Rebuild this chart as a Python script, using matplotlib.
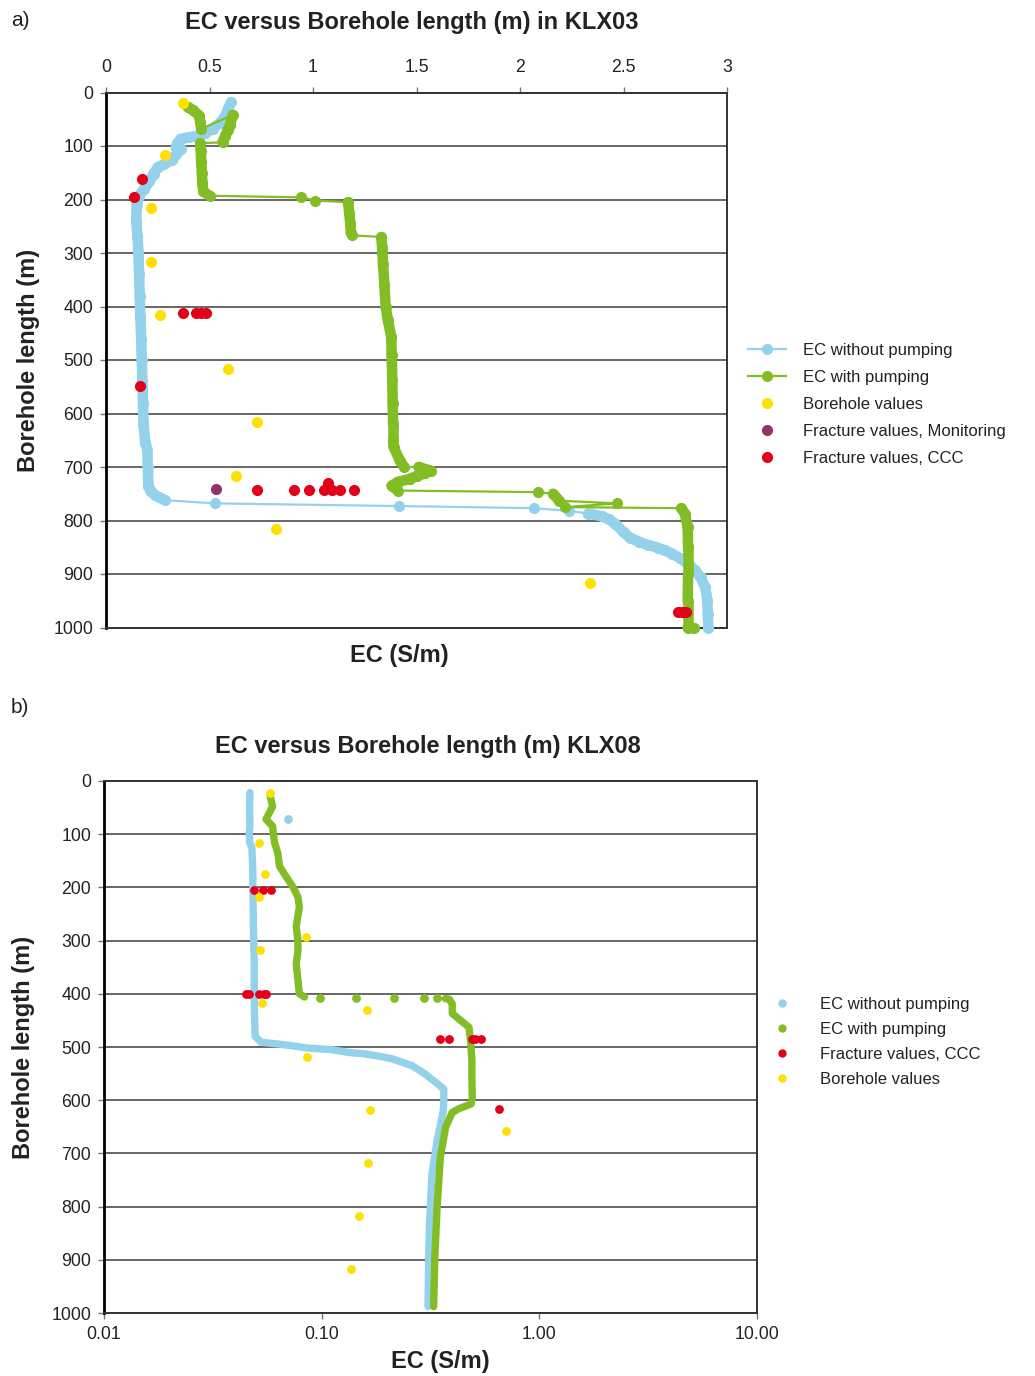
import matplotlib
matplotlib.use("Agg")
import matplotlib.pyplot as plt
from matplotlib.collections import LineCollection
from matplotlib.lines import Line2D
import numpy as np

plt.rcParams['font.family'] = ['Liberation Sans', 'DejaVu Sans']

BLUE = '#93D2EA'
GREEN = '#83BD26'
YELLOW = '#FFE000'
RED = '#E3001B'
PURPLE = '#963366'

# ---------------- a) KLX03 (linear EC axis) ----------------
klx03_nopump_ec = [0.604, 0.59, 0.575, 0.55, 0.515, 0.48, 0.45, 0.40, 0.36, 0.345, 0.338, 0.36,
                   0.34, 0.32, 0.28, 0.25, 0.23, 0.21, 0.185, 0.16, 0.148, 0.146, 0.152, 0.157,
                   0.160, 0.163, 0.166, 0.170, 0.173, 0.176, 0.179, 0.181, 0.19, 0.2, 0.202, 0.205,
                   0.215, 0.235, 0.257, 0.286, 0.527, 1.417, 2.069, 2.236, 2.33, 2.394, 2.43, 2.46,
                   2.5, 2.53, 2.576, 2.62, 2.665, 2.70, 2.734, 2.775, 2.813, 2.845, 2.872, 2.895,
                   2.905, 2.907, 2.91]
klx03_nopump_depth = [18, 30, 45, 57, 68, 76, 80, 84, 87, 95, 102, 106,
                      115, 126, 134, 140, 152, 166, 180, 193, 210, 240, 270, 300,
                      340, 380, 420, 460, 500, 540, 580, 620, 655, 668, 700, 735,
                      745, 752, 757, 762, 768, 773, 777, 782, 787, 792, 798, 806,
                      822, 832, 840, 846, 851, 856, 862, 871, 881, 893, 906, 925,
                      950, 975, 1000]

klx03_pump_ec = [0.394, 0.42, 0.45, 0.455, 0.46, 0.612, 0.60, 0.587, 0.575, 0.563, 0.455, 0.458,
                 0.46, 0.463, 0.466, 0.47, 0.50, 0.943, 1.012, 1.169, 1.175, 1.18, 1.183, 1.19,
                 1.33, 1.334, 1.338, 1.345, 1.351, 1.362, 1.378, 1.38, 1.383, 1.385, 1.387, 1.387,
                 1.39, 1.42, 1.44, 1.51, 1.57, 1.54, 1.50, 1.47, 1.41, 1.38, 1.41, 2.087,
                 2.16, 2.19, 2.47, 2.215, 2.78, 2.797, 2.81, 2.812, 2.812, 2.81, 2.81, 2.84]
klx03_pump_depth = [27, 33, 43, 55, 68, 42, 60, 71, 82, 93, 95, 110,
                    130, 150, 170, 185, 193, 196, 202, 205, 225, 245, 262, 267,
                    270, 290, 320, 360, 401, 426, 457, 490, 538, 580, 620, 650,
                    663, 688, 700, 700, 707, 712, 717, 722, 728, 735, 744, 747,
                    750, 763, 768, 775, 777, 788, 813, 850, 900, 950, 1000, 1001]

klx03_borehole_ec = [0.374, 0.286, 0.216, 0.216, 0.262, 0.588, 0.728, 0.626, 0.819, 2.339]
klx03_borehole_depth = [19, 116, 215, 316, 416, 516, 616, 716, 815, 916]

klx03_monitoring_ec = [0.533]
klx03_monitoring_depth = [741]

klx03_ccc_ec = [0.173, 0.136, 0.374, 0.434, 0.458, 0.483, 0.165, 0.73, 0.908, 0.981, 1.052,
                1.072, 1.092, 1.131, 1.198, 2.764, 2.783, 2.803]
klx03_ccc_depth = [161, 196, 412, 412, 412, 412, 549, 743, 743, 743, 743,
                   729, 743, 743, 743, 971, 971, 971]

# ---------------- b) KLX08 (log EC axis) ----------------
klx08_nopump_ec = [0.0468, 0.0466, 0.0468, 0.0465, 0.0468, 0.0478, 0.0482, 0.0484, 0.0486, 0.049,
                   0.049, 0.0492, 0.0495, 0.0526, 0.0652, 0.0865, 0.111, 0.132, 0.158, 0.182,
                   0.210, 0.260, 0.299, 0.333, 0.364, 0.364, 0.362, 0.339, 0.321, 0.313, 0.31, 0.308]
klx08_nopump_depth = [22, 50, 80, 100, 117, 125, 160, 220, 280, 340,
                      400, 450, 480, 491, 495, 502, 505, 510, 513, 517,
                      522, 535, 551, 566, 579, 600, 620, 676, 739, 833, 900, 988]
klx08_nopump_single_ec = [0.0704]
klx08_nopump_single_depth = [72]

klx08_pump_ec = [0.058, 0.0595, 0.0555, 0.0595, 0.0600, 0.0607, 0.0629, 0.064, 0.0687, 0.0738,
                 0.0778, 0.079, 0.0776, 0.0764, 0.0778, 0.0778, 0.0764, 0.0778, 0.079, 0.0834]
klx08_pump_depth = [28, 48, 72, 85, 100, 115, 136, 160, 180, 199,
                    218, 237, 256, 274, 300, 320, 343, 374, 400, 406]
klx08_pump_deep_ec = [0.370, 0.385, 0.398, 0.398, 0.435, 0.475, 0.483, 0.49, 0.49, 0.492, 0.486,
                      0.427, 0.398, 0.371, 0.351, 0.339, 0.331, 0.327]
klx08_pump_deep_depth = [409, 410, 419, 437, 450, 463, 488, 525, 560, 595, 607,
                         616, 623, 651, 707, 802, 896, 988]
klx08_pump_single_ec = [0.098, 0.1436, 0.214, 0.296, 0.339]
klx08_pump_single_depth = [407, 407, 407, 407, 408]

klx08_ccc_ec = [0.049, 0.0535, 0.0585, 0.0449, 0.0465, 0.0517, 0.0545, 0.0555,
                0.351, 0.384, 0.492, 0.509, 0.537, 0.653]
klx08_ccc_depth = [204, 204, 204, 401, 401, 401, 401, 401,
                   485, 485, 485, 485, 485, 616]

klx08_borehole_ec = [0.0576, 0.0514, 0.055, 0.0517, 0.0847, 0.0522, 0.0532, 0.161, 0.0855,
                     0.166, 0.706, 0.164, 0.148, 0.136]
klx08_borehole_depth = [23, 117, 175, 218, 293, 318, 417, 430, 518,
                        618, 657, 718, 817, 917]

depth_ticks = list(range(0, 1001, 100))


def style_axes(ax):
    ax.set_ylim(1000, 0)
    ax.set_yticks(depth_ticks)
    ax.yaxis.grid(True, color='#4d4d4d', lw=1.2)
    ax.set_axisbelow(True)
    for s in ax.spines.values():
        s.set_color('#333333')
        s.set_linewidth(1.4)
    ax.spines['left'].set_color('black')
    ax.spines['left'].set_linewidth(2)
    ax.tick_params(axis='both', direction='out', length=4.2, width=1, color='#777777',
                   labelsize=12.7, labelcolor='#222222', pad=5)


def draw_profile(ax, ec, depth, color, label, ms=7):
    # thin connecting line with a marker at every reading
    ax.plot(ec, depth, '-', color=color, lw=1.6, marker='o', ms=ms, mfc=color, mec=color,
            label=label, zorder=3, clip_on=False)
    # closely spaced readings merge into a broad band
    pts = ax.transData.transform(np.column_stack([ec, depth]))
    d = np.diff(pts, axis=0)
    jump = (np.abs(d[:, 0]) > 1.5 * np.abs(d[:, 1])) & (np.hypot(d[:, 0], d[:, 1]) > 14)
    xy = np.column_stack([ec, depth])
    segs = [xy[i:i + 2] for i in range(len(d)) if not jump[i]]
    ax.add_collection(LineCollection(segs, colors=color, linewidths=ms + 0.6, capstyle='round',
                                     joinstyle='round', zorder=3, clip_on=False))


fig = plt.figure(figsize=(10.35, 13.76), dpi=100)

# ---------------- panel a ----------------
ax1 = fig.add_axes([106 / 1035, 1 - 627.5 / 1376, 621 / 1035, 535 / 1376])
ax1.set_xlim(0, 3)
style_axes(ax1)
ax1.xaxis.tick_top()
ax1.set_xticks([0, 0.5, 1, 1.5, 2, 2.5, 3])
ax1.set_xticklabels(['0', '0.5', '1', '1.5', '2', '2.5', '3'])
ax1.tick_params(axis='x', pad=8)

draw_profile(ax1, klx03_nopump_ec, klx03_nopump_depth, BLUE, 'EC without pumping')
draw_profile(ax1, klx03_pump_ec, klx03_pump_depth, GREEN, 'EC with pumping')
ax1.plot(klx03_borehole_ec, klx03_borehole_depth, 'o', ls='none', ms=7, color=YELLOW,
         label='Borehole values', zorder=4)
ax1.plot(klx03_monitoring_ec, klx03_monitoring_depth, 'o', ls='none', ms=7, color=PURPLE,
         label='Fracture values, Monitoring', zorder=4)
ax1.plot(klx03_ccc_ec, klx03_ccc_depth, 'o', ls='none', ms=7, color=RED,
         label='Fracture values, CCC', zorder=4, clip_on=False)

ax1.set_xlabel('EC (S/m)', fontsize=17, fontweight='bold', color='#222222')
ax1.xaxis.set_label_position('bottom')
ax1.xaxis.set_label_coords(0.473, -0.031)
ax1.set_ylabel('Borehole length (m)', fontsize=17, fontweight='bold', color='#222222')
ax1.yaxis.set_label_coords(-0.106, 0.5)

fig.text(412 / 1035, 1 - 23 / 1376, 'EC versus Borehole length (m) in KLX03', fontsize=17,
         fontweight='bold', ha='center', va='center', color='#222222')
fig.text(11 / 1035, 1 - 20 / 1376, 'a)', fontsize=15, ha='left', va='center', color='#222222')

h1, l1 = ax1.get_legend_handles_labels()
fig.legend(h1, l1, loc='upper left', bbox_to_anchor=(748 / 1035, 1 - 343 / 1376),
           frameon=False, fontsize=12, handlelength=2.3, handletextpad=1.0,
           labelspacing=0.72, borderpad=0, borderaxespad=0, labelcolor='#222222')

# ---------------- panel b ----------------
ax2 = fig.add_axes([104 / 1035, 1 - 1313 / 1376, 653 / 1035, 532 / 1376])
ax2.set_xscale('log')
ax2.set_xlim(0.01, 10)
style_axes(ax2)
ax2.set_xticks([0.01, 0.1, 1, 10])
ax2.set_xticklabels(['0.01', '0.10', '1.00', '10.00'])
ax2.xaxis.set_minor_locator(matplotlib.ticker.NullLocator())

band = dict(lw=5.3, solid_capstyle='round', solid_joinstyle='round', zorder=3)
ax2.plot(klx08_nopump_ec, klx08_nopump_depth, color=BLUE, **band)
ax2.plot(klx08_nopump_single_ec, klx08_nopump_single_depth, 'o', ls='none', ms=5.3, color=BLUE, zorder=3)
ax2.plot(klx08_pump_ec, klx08_pump_depth, color=GREEN, **band)
ax2.plot(klx08_pump_deep_ec, klx08_pump_deep_depth, color=GREEN, **band)
ax2.plot(klx08_pump_single_ec, klx08_pump_single_depth, 'o', ls='none', ms=5.3, color=GREEN, zorder=3)
ax2.plot(klx08_ccc_ec, klx08_ccc_depth, 'o', ls='none', ms=5.3, color=RED, zorder=4)
ax2.plot(klx08_borehole_ec, klx08_borehole_depth, 'o', ls='none', ms=5.3, color=YELLOW, zorder=4)

ax2.set_xlabel('EC (S/m)', fontsize=17, fontweight='bold', color='#222222')
ax2.xaxis.set_label_coords(0.515, -0.07)
ax2.set_ylabel('Borehole length (m)', fontsize=17, fontweight='bold', color='#222222')
ax2.yaxis.set_label_coords(-0.105, 0.5)

fig.text(428 / 1035, 1 - 747 / 1376, 'EC versus Borehole length (m) KLX08', fontsize=17,
         fontweight='bold', ha='center', va='center', color='#222222')
fig.text(11 / 1035, 1 - 707.5 / 1376, 'b)', fontsize=15, ha='left', va='center', color='#222222')

h2 = [Line2D([], [], ls='none', marker='o', ms=5, color=c) for c in (BLUE, GREEN, RED, YELLOW)]
l2 = ['EC without pumping', 'EC with pumping', 'Fracture values, CCC', 'Borehole values']
fig.legend(h2, l2, loc='upper left', bbox_to_anchor=(765 / 1035, 1 - 997 / 1376),
           frameon=False, fontsize=12, handlelength=2.0, handletextpad=1.3,
           labelspacing=0.6, borderpad=0, borderaxespad=0, labelcolor='#222222')

fig.savefig('out.png', dpi=100)
